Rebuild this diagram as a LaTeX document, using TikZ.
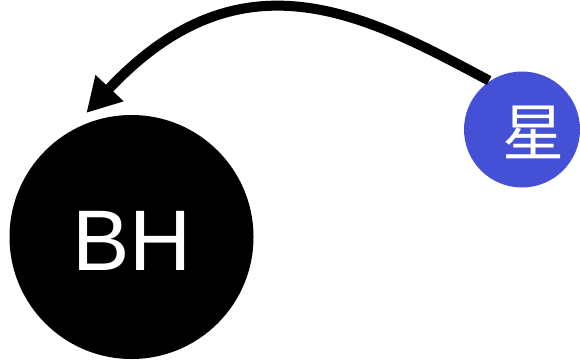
\documentclass[tikz,border=0pt]{standalone}
\usepackage{fontspec}
\setmainfont{Liberation Sans}
\newfontfamily\cjk{Noto Sans CJK SC}
\usetikzlibrary{arrows.meta}
\definecolor{starblue}{RGB}{68,80,214}
\tikzset{
  bhnode/.style={circle, fill=black, minimum size=244pt, inner sep=0pt, outer sep=10pt},
  starnode/.style={circle, fill=starblue, minimum size=116pt, inner sep=0pt, outer sep=1pt},
  labeltext/.style={text=white, inner sep=0pt},
  flow/.style={line width=10pt, -{Triangle[length=34pt,width=36pt]}}
}
\begin{document}
\begin{tikzpicture}[x=1pt,y=-1pt]
\useasboundingbox (0,0) rectangle (580,362);
\node[bhnode] (bh) at (131.5,237) {};
\node[starnode] (star) at (522,129.5) {};
\node[labeltext, font=\fontsize{86}{86}\selectfont] (bhlabel) at (132,241) {BH};
\node[labeltext, font=\cjk\fontsize{62}{62}\selectfont] (starlabel) at (533.5,132.5) {星};
\draw[flow] (star.124) .. controls (366.5,15.3) and (241.6,-53) .. (bh.110);
\end{tikzpicture}
\end{document}
